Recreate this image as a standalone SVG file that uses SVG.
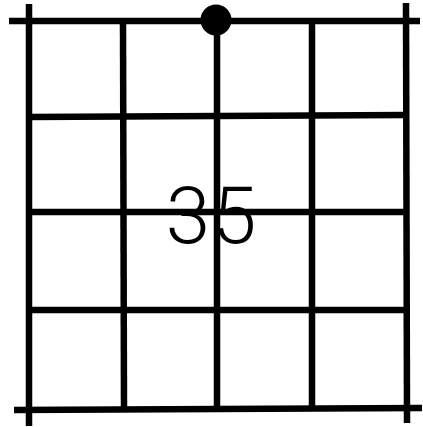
<svg xmlns="http://www.w3.org/2000/svg" width="423" height="427" viewBox="0 0 423 427">
<style>
.g{stroke:#000;stroke-width:6.5;stroke-linecap:butt;fill:none}
.t{font-family:Roboto,"Liberation Sans",sans-serif;font-weight:300;font-size:80px;fill:#000}
</style>
<rect width="423" height="427" fill="#fff"/>
<g id="grid" class="g">
<line x1="29" y1="4" x2="29" y2="426"/>
<line x1="123" y1="21" x2="124" y2="409"/>
<line x1="217" y1="21" x2="217" y2="409"/>
<line x1="312" y1="21" x2="312" y2="409"/>
<line x1="406" y1="3" x2="407" y2="423"/>
<line x1="9" y1="21" x2="420" y2="21"/>
<line x1="29" y1="117" x2="406" y2="115"/>
<line x1="29" y1="212" x2="406" y2="212"/>
<line x1="29" y1="310" x2="406" y2="310"/>
<line x1="14" y1="410" x2="422" y2="408"/>
</g>
<g id="dot"><circle cx="216" cy="20" r="15.5" fill="#000"/></g>
<g id="label"><text class="t" x="212" y="243" text-anchor="middle" letter-spacing="2">35</text></g>
</svg>
